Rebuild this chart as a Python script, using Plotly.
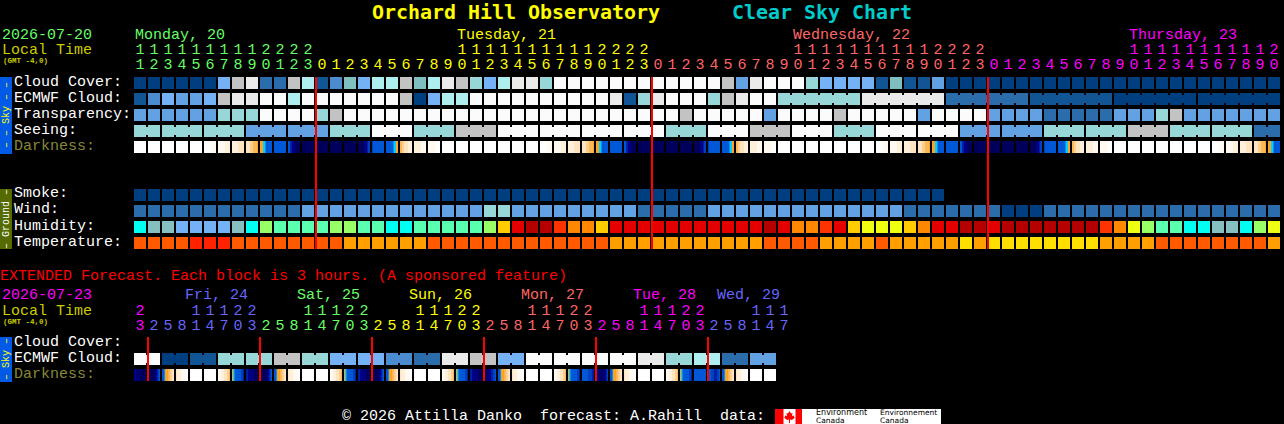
import plotly.graph_objects as go

# ---------- data ----------
HOURS = [11,12,13,14,15,16,17,18,19,20,21,22,23] + list(range(24)) + list(range(24)) + list(range(21))
HOUR_DAY = "1"*13 + "2"*24 + "3"*24 + "4"*21
EXT_HOURS = [23] + [2,5,8,11,14,17,20,23]*5 + [2,5,8,11,14,17]
EXT_DAY = "4" + "5"*8 + "1"*8 + "2"*8 + "3"*8 + "4"*8 + "5"*6

CLOUD = "AAAAAA"+"FJKCCJIBDGFIIJG"+"IKJHFIKKH"+"LLLLLLLLLLLL"+"JEKLLLHFFFFBGBBE"+"AAAAAAAAAAAAAAAAAAAAAAAA"
ECMWF = "BDFEEFJKKLLI"+"LLLLLLL"+"JAFII"+"LLLLLLLLLL"+"KBHK"+"LLL"+"HJKLL"+"HHHHHH"+"KKKKKK"+"CCCCCC"+"BBBBBB"+"AAAAAA"+"AAAAAA"
TRANSP = "EEEEEE"+"HHH"+"LLLL"+"HJ"+"LLLLLLLLLLLLLLLLLLLLLLLL"+"J"+"LLLLL"+"E"+"LLLL"+"J"+"LLLLL"+"E"+"LLLL"+"EEEE"+"CCCCC"+"EEE"+"HJ"+"EEEEEEE"
SEEING = "HH"+"HHH"+"HHH"+"EEE"+"EEE"+"HHH"+"LLL"+"HHH"+"JJJ"+"LLL"+"LLL"+"LLL"+"LLL"+"HHH"+"LLL"+"JJJ"+"LLL"+"HHH"+"LLL"+"LLL"+"EEE"+"EEE"+"HHH"+"HHH"+"JJJ"+"HHH"+"HHH"+"CC"
SEEING_SIZES = [2]+[3]*26+[2]
ECMWF_GROUPS = [(46,51),(52,57),(58,63),(64,69),(70,75),(76,81)]
SMOKE = "A"*58
WIND = "CCCCCCCCCCCC"+"EEEEEEEEEEEEE"+"HH"+"EEEEEEEEE"+"CCCCC"+"EEEEEEEEEEEEEE"+"CCCCCCC"+"AAA"+"CCCCCCCCCCCCCCCCC"
HUMID = "cggffffgclmmmmllmmccmmmmmlarddtooa"+"rrrrrrrrrrr"+"drootra"+"yyy"+"a"+"o"+"rr"+"dd"+"r"+"ddddddd"+"t"+"o"+"y"+"l"+"mm"+"cc"+"gg"+"c"+"l"+"y"
TEMP = "pppp"+"rrr"+"pppppppp"+"oooooo"+"ppppppppppppp"+"ooooooooooo"+"pppp"+"oooo"+"p"+"ooooo"+"y"+"o"+"yyyyyyyy"+"oooo"+"pppppppp"+"o"
EXT_ECMWF = "LLAABBHHHHJJHHFFFFDDCCKKJJFFLLLLLLLLKKHHIICCEE"

DARK_PATTERNS = {
 "w":"000000000000","x":"000000011111","y":"111111122222","z":"222222333333",
 "o":"333344455556","s":"666778999999","b":"999999999999","f":"99bbccddeeee",
 "n":"eeeeeeeeeeee","r":"eeeeeedccbaa","u":"a99999999999","v":"999999987766",
 "q":"554433332222","p":"222222211111","t":"111111110000",
 "i":"ccddddeeeeee","h":"eeeeeeddcba9","A":"998666554433","B":"322221111000",
 "C":"111222333445","D":"678999999aab","g":"bbcccddddeee","j":"eedddccbbaa9",
 "E":"999999aaaabb","F":"bccddeeddcba","G":"999aaabbbaa9",
}
DARK = "wwwwwxyzosbfnnnnruvqpt"+"wwwwwww"+"xyzosbfnnnnruvqpt"+"wwwwwww"+"xyzosbfnnnnruvqpt"+"wwwwwww"+"xyzos"
EXT_DARK = "ihAB"+"wwCDghAB"+"wwCDghAB"+"wwCDgjAB"+"wwCDEFAB"+"wwCDbGAB"+"ww"
DARK_LEVELS = ["#FFFFFF","#FFF9F0","#FFF0DC","#FFE4C0","#FFD090","#FFB858","#FFA020","#00D0FF",
               "#0090F0","#0058D8","#0040C0","#0020A0","#000090","#000070","#00005C"]

MIDNIGHTS = [13, 37, 61]
EXT_MIDNIGHTS = [1, 9, 17, 25, 33, 41]

SKY_LABELS = ["Cloud Cover:", "ECMWF Cloud:", "Transparency:", "Seeing:", "Darkness:"]
GROUND_LABELS = ["Smoke:", "Wind:", "Humidity:", "Temperature:"]
EXT_LABELS = ["Cloud Cover:", "ECMWF Cloud:", "Darkness:"]

CLOUD_COLORS = {"A":"#003F7F","B":"#125595","C":"#2B6CAB","D":"#4A8CCF","E":"#62A2E2","F":"#74B2F5",
                "G":"#80BFBF","H":"#97D7D7","I":"#AEEEEE","J":"#C3C3C3","K":"#EAEAEA","L":"#FBFBFB"}
HUMID_COLORS = {"c":"#00FFF0","g":"#85BFBF","f":"#74B2F5","m":"#5AFFB0","l":"#99FF66","y":"#EEFF11",
                "a":"#FFCC00","o":"#FF8800","t":"#FF3300","r":"#E50000","d":"#B50000"}
TEMP_COLORS = {"p":"#FF5A00","r":"#FF2200","o":"#FFA000","y":"#FFDF00"}
DAY_COLORS = {"1":"#66FF66","2":"#FFFF00","3":"#FF6666","4":"#FF00FF","5":"#6666FF"}

# ---------- layout helpers ----------
W, H = 1284, 424
MONO = "Liberation Mono"
TITLE_FONT = "DejaVu Sans Mono"
FS = 15
X0, PITCH = 140, 14      # pixel centre of column 0 and pixel pitch of a column
Y0, RH = 83, 16          # pixel centre of row 0 and pixel pitch of a row
def row(y): return (y - Y0) / RH
def px(x): return x / W
def py(y): return 1 - y / H

fig = go.Figure()

def add_row(letters, r, palette, groups=None):
    if groups:
        by_color = {}
        for a, b in groups:
            for i in range(a, b):
                by_color.setdefault(letters[a], []).append((i, i + 1))
        for c, segs in by_color.items():
            xs, ys = [], []
            for a, b in segs:
                xs += [a, b, None]
                ys += [r, r, None]
            fig.add_trace(go.Scatter(x=xs, y=ys, mode="lines", line=dict(color=palette[c], width=8),
                                     hoverinfo="skip", showlegend=False))
    fig.add_trace(go.Scatter(x=list(range(len(letters))), y=[r]*len(letters), mode="markers",
                             marker=dict(symbol="square", size=12, line_width=0,
                                         color=[palette[c] for c in letters], opacity=1),
                             hoverinfo="skip", showlegend=False))

def add_dark(seq, r):
    z = []
    for ch in seq:
        z += [int(v, 16) for v in DARK_PATTERNS[ch]] + [None, None]
    n = len(DARK_LEVELS) - 1
    fig.add_trace(go.Heatmap(z=[z], x0=(134.5 - X0)/PITCH, dx=1/PITCH, y0=r, dy=1, ygap=4, zmin=0, zmax=n,
                             colorscale=[[i/n, c] for i, c in enumerate(DARK_LEVELS)],
                             showscale=False, hoverinfo="skip"))

def seq_groups(sizes):
    out, a = [], 0
    for s in sizes:
        out.append((a, a + s - 1))
        a += s
    return out

add_row(CLOUD, 0, CLOUD_COLORS)
add_row(ECMWF, 1, CLOUD_COLORS, ECMWF_GROUPS)
add_row(TRANSP, 2, CLOUD_COLORS)
add_row(SEEING, 3, CLOUD_COLORS, seq_groups(SEEING_SIZES))
add_dark(DARK, 4)
add_row(SMOKE, 7, CLOUD_COLORS)
add_row(WIND, 8, CLOUD_COLORS)
add_row(HUMID, 9, HUMID_COLORS)
add_row(TEMP, 10, TEMP_COLORS)
add_row(EXT_ECMWF, row(359), CLOUD_COLORS, seq_groups([2]*23))
add_dark(EXT_DARK, row(375))

# red day lines
OFF = 3/7
xs, ys = [], []
for m in MIDNIGHTS:
    xs += [m - OFF, m - OFF, None]; ys += [row(77), row(249), None]
for m in EXT_MIDNIGHTS:
    xs += [m - OFF, m - OFF, None]; ys += [row(337), row(381), None]
fig.add_trace(go.Scatter(x=xs, y=ys, mode="lines", line=dict(color="#FF0000", width=2),
                         hoverinfo="skip", showlegend=False))

# hour digits
def digits(hours, days, y_tens, y_units):
    idx = list(range(len(hours)))
    cols = [DAY_COLORS[d] for d in days]
    fig.add_trace(go.Scatter(x=idx, y=[row(y_tens)]*len(idx), mode="text",
                             text=[str(h//10) if h >= 10 else "" for h in hours],
                             textposition="middle center", textfont=dict(family=MONO, size=FS, color=cols),
                             hoverinfo="skip", showlegend=False))
    fig.add_trace(go.Scatter(x=idx, y=[row(y_units)]*len(idx), mode="text",
                             text=[str(h%10) for h in hours],
                             textposition="middle center", textfont=dict(family=MONO, size=FS, color=cols),
                             hoverinfo="skip", showlegend=False))
digits(HOURS, HOUR_DAY, 50.5, 65)
digits(EXT_HOURS, EXT_DAY, 311, 326)

# text
ann = []
def T(x, y, s, color="#FFFFFF", size=FS, bold=False, angle=0, anchor="left", fam=MONO):
    ann.append(dict(x=px(x), y=py(y), xref="paper", yref="paper", text=("<b>%s</b>" % s) if bold else s,
                    showarrow=False, xanchor=anchor, yanchor="middle", textangle=angle, borderpad=0, borderwidth=0,
                    font=dict(family=fam, size=size, color=color)))

T(372, 12, "Orchard Hill Observatory", "#FFFF00", 19.95, True, fam=TITLE_FONT)
T(732, 12, "Clear Sky Chart", "#00CCCC", 19.95, True, fam=TITLE_FONT)
T(2, 35.5, "2026-07-20", "#66FF66")
T(2, 50.5, "Local Time", "#CCCC00")
T(3, 61, "(GMT -4,0)", "#CCCC00", 7.5, True)
T(135, 35.5, "Monday, 20", "#66FF66")
T(457, 35.5, "Tuesday, 21", "#FFFF00")
T(793, 35.5, "Wednesday, 22", "#FF6666")
T(1129, 35.5, "Thursday, 23", "#FF00FF")
for i, s in enumerate(SKY_LABELS):
    T(14, 82 + 16*i, s, "#888833" if s.startswith("Dark") else "#FFFFFF")
for i, s in enumerate(GROUND_LABELS):
    T(14, 194 + 16*i, s)
T(0, 276.5, "EXTENDED Forecast. Each block is 3 hours. (A sponsored feature)", "#FF0000")
T(2, 295, "2026-07-23", "#FF00FF")
T(2, 311, "Local Time", "#CCCC00")
T(3, 322, "(GMT -4,0)", "#CCCC00", 7.5, True)
T(185, 295, "Fri, 24", "#6666FF")
T(297, 295, "Sat, 25", "#66FF66")
T(409, 295, "Sun, 26", "#FFFF00")
T(521, 295, "Mon, 27", "#FF6666")
T(633, 295, "Tue, 28", "#FF00FF")
T(717, 295, "Wed, 29", "#6666FF")
for i, s in enumerate(EXT_LABELS):
    T(14, 342 + 16*i, s, "#888833" if s.startswith("Dark") else "#FFFFFF")
T(342, 416, "\u00a9 2026 Attilla Danko\u00a0\u00a0forecast: A.Rahill\u00a0\u00a0data:")
T(6, 115, "\u2013 \u2013 Sky \u2013 \u2013", "#FFFF00", 10, angle=-90, anchor="center")
T(6, 219, "\u2013 Ground \u2013", "#FFFFFF", 10, angle=-90, anchor="center")
T(6, 359, "\u2013 Sky \u2013", "#FFFF00", 10, angle=-90, anchor="center")
SANS = "DejaVu Sans"
T(815.5, 412, "Environment", "#000000", 8, fam=SANS)
T(815.5, 420.5, "Canada", "#000000", 7.5, fam=SANS)
T(880.5, 412, "Environnement", "#000000", 7.5, fam=SANS)
T(880.5, 420.5, "Canada", "#000000", 7.5, fam=SANS)

def rect(x0, y0, x1, y1, color):
    return dict(type="rect", xref="paper", yref="paper", x0=px(x0), x1=px(x1), y0=py(y0), y1=py(y1),
                fillcolor=color, line_width=0, layer="below")

LEAF = [(789.5,411),(791,413.5),(792.5,413),(792,416),(794,415.5),(794,417),(795,417.5),(792,420),(790,419.5),(790,423),
        (789,423),(789,419.5),(787,420),(784,417.5),(785,417),(785,415.5),(787,416),(786.5,413),(788,413.5)]
leaf_path = "M " + " L ".join("%f,%f" % (px(x), py(y)) for x, y in LEAF) + " Z"

shapes = [
    rect(0, 77, 12, 154, "#005AE6"),
    rect(0, 189, 12, 249, "#556B00"),
    rect(0, 337, 12, 382, "#005AE6"),
    rect(775, 409, 941, 424, "#FFFFFF"),
    rect(775, 409, 783.5, 424, "#FF0000"),
    rect(795.5, 409, 802, 424, "#FF0000"),
    dict(type="path", xref="paper", yref="paper", path=leaf_path, fillcolor="#FF0000", line_width=0, layer="below"),
]

fig.update_layout(
    width=W, height=H, margin=dict(l=0, r=0, t=0, b=0, pad=0),
    paper_bgcolor="#000000", plot_bgcolor="rgba(0,0,0,0)", showlegend=False,
    xaxis=dict(visible=False, range=[-X0/PITCH, (W - X0)/PITCH], fixedrange=True, domain=[0, 1]),
    yaxis=dict(visible=False, range=[(H - Y0)/RH, -Y0/RH], fixedrange=True, domain=[0, 1]),
    annotations=ann, shapes=shapes,
)

fig.write_html("out.html", config={"displayModeBar": False},
               post_script="document.body.style.margin='0';document.body.style.background='#000';document.documentElement.style.overflow='hidden';")
